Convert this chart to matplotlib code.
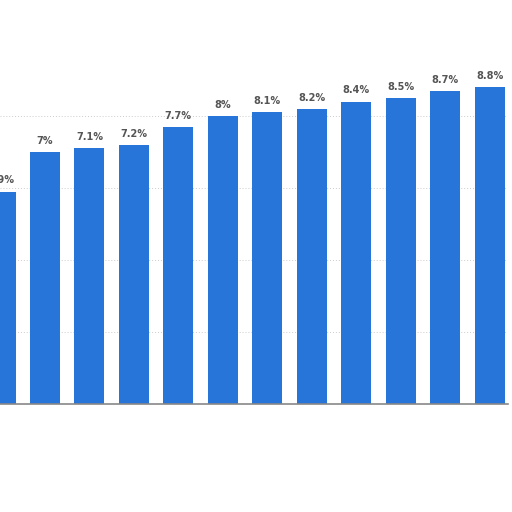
import matplotlib.pyplot as plt
import numpy as np

# share values (percent), one bar per period
values = [5.9, 7.0, 7.1, 7.2, 7.7, 8.0, 8.1, 8.2, 8.4, 8.5, 8.7, 8.8]
labels = ["5.9%", "7%", "7.1%", "7.2%", "7.7%", "8%", "8.1%", "8.2%",
          "8.4%", "8.5%", "8.7%", "8.8%"]
grid_levels = [2, 4, 6, 8]

fig = plt.figure(figsize=(5.12, 5.12), dpi=100)
ax = fig.add_axes([0, (512 - 404) / 512, 508 / 512, 360 / 512])

x = np.arange(len(values))
ax.bar(x, values, width=0.675, color="#2775d8", zorder=2)

for xi, v, lab in zip(x, values, labels):
    ax.text(xi, v + 0.17, lab, ha="center", va="bottom", fontsize=7,
            fontweight="bold", color="#555555", zorder=3)

for g in grid_levels:
    ax.axhline(g, color="#cccccc", lw=0.7, ls=(0, (1, 2)), zorder=1)

ax.set_xlim(-0.012, 11.416)
ax.set_ylim(0, 10)
ax.set_xticks([])
ax.set_yticks([])
for side in ["top", "right", "left"]:
    ax.spines[side].set_visible(False)
ax.spines["bottom"].set_color("#888888")
ax.spines["bottom"].set_linewidth(1.2)
ax.spines["bottom"].set_zorder(3)

fig.savefig("out.png", dpi=100)
